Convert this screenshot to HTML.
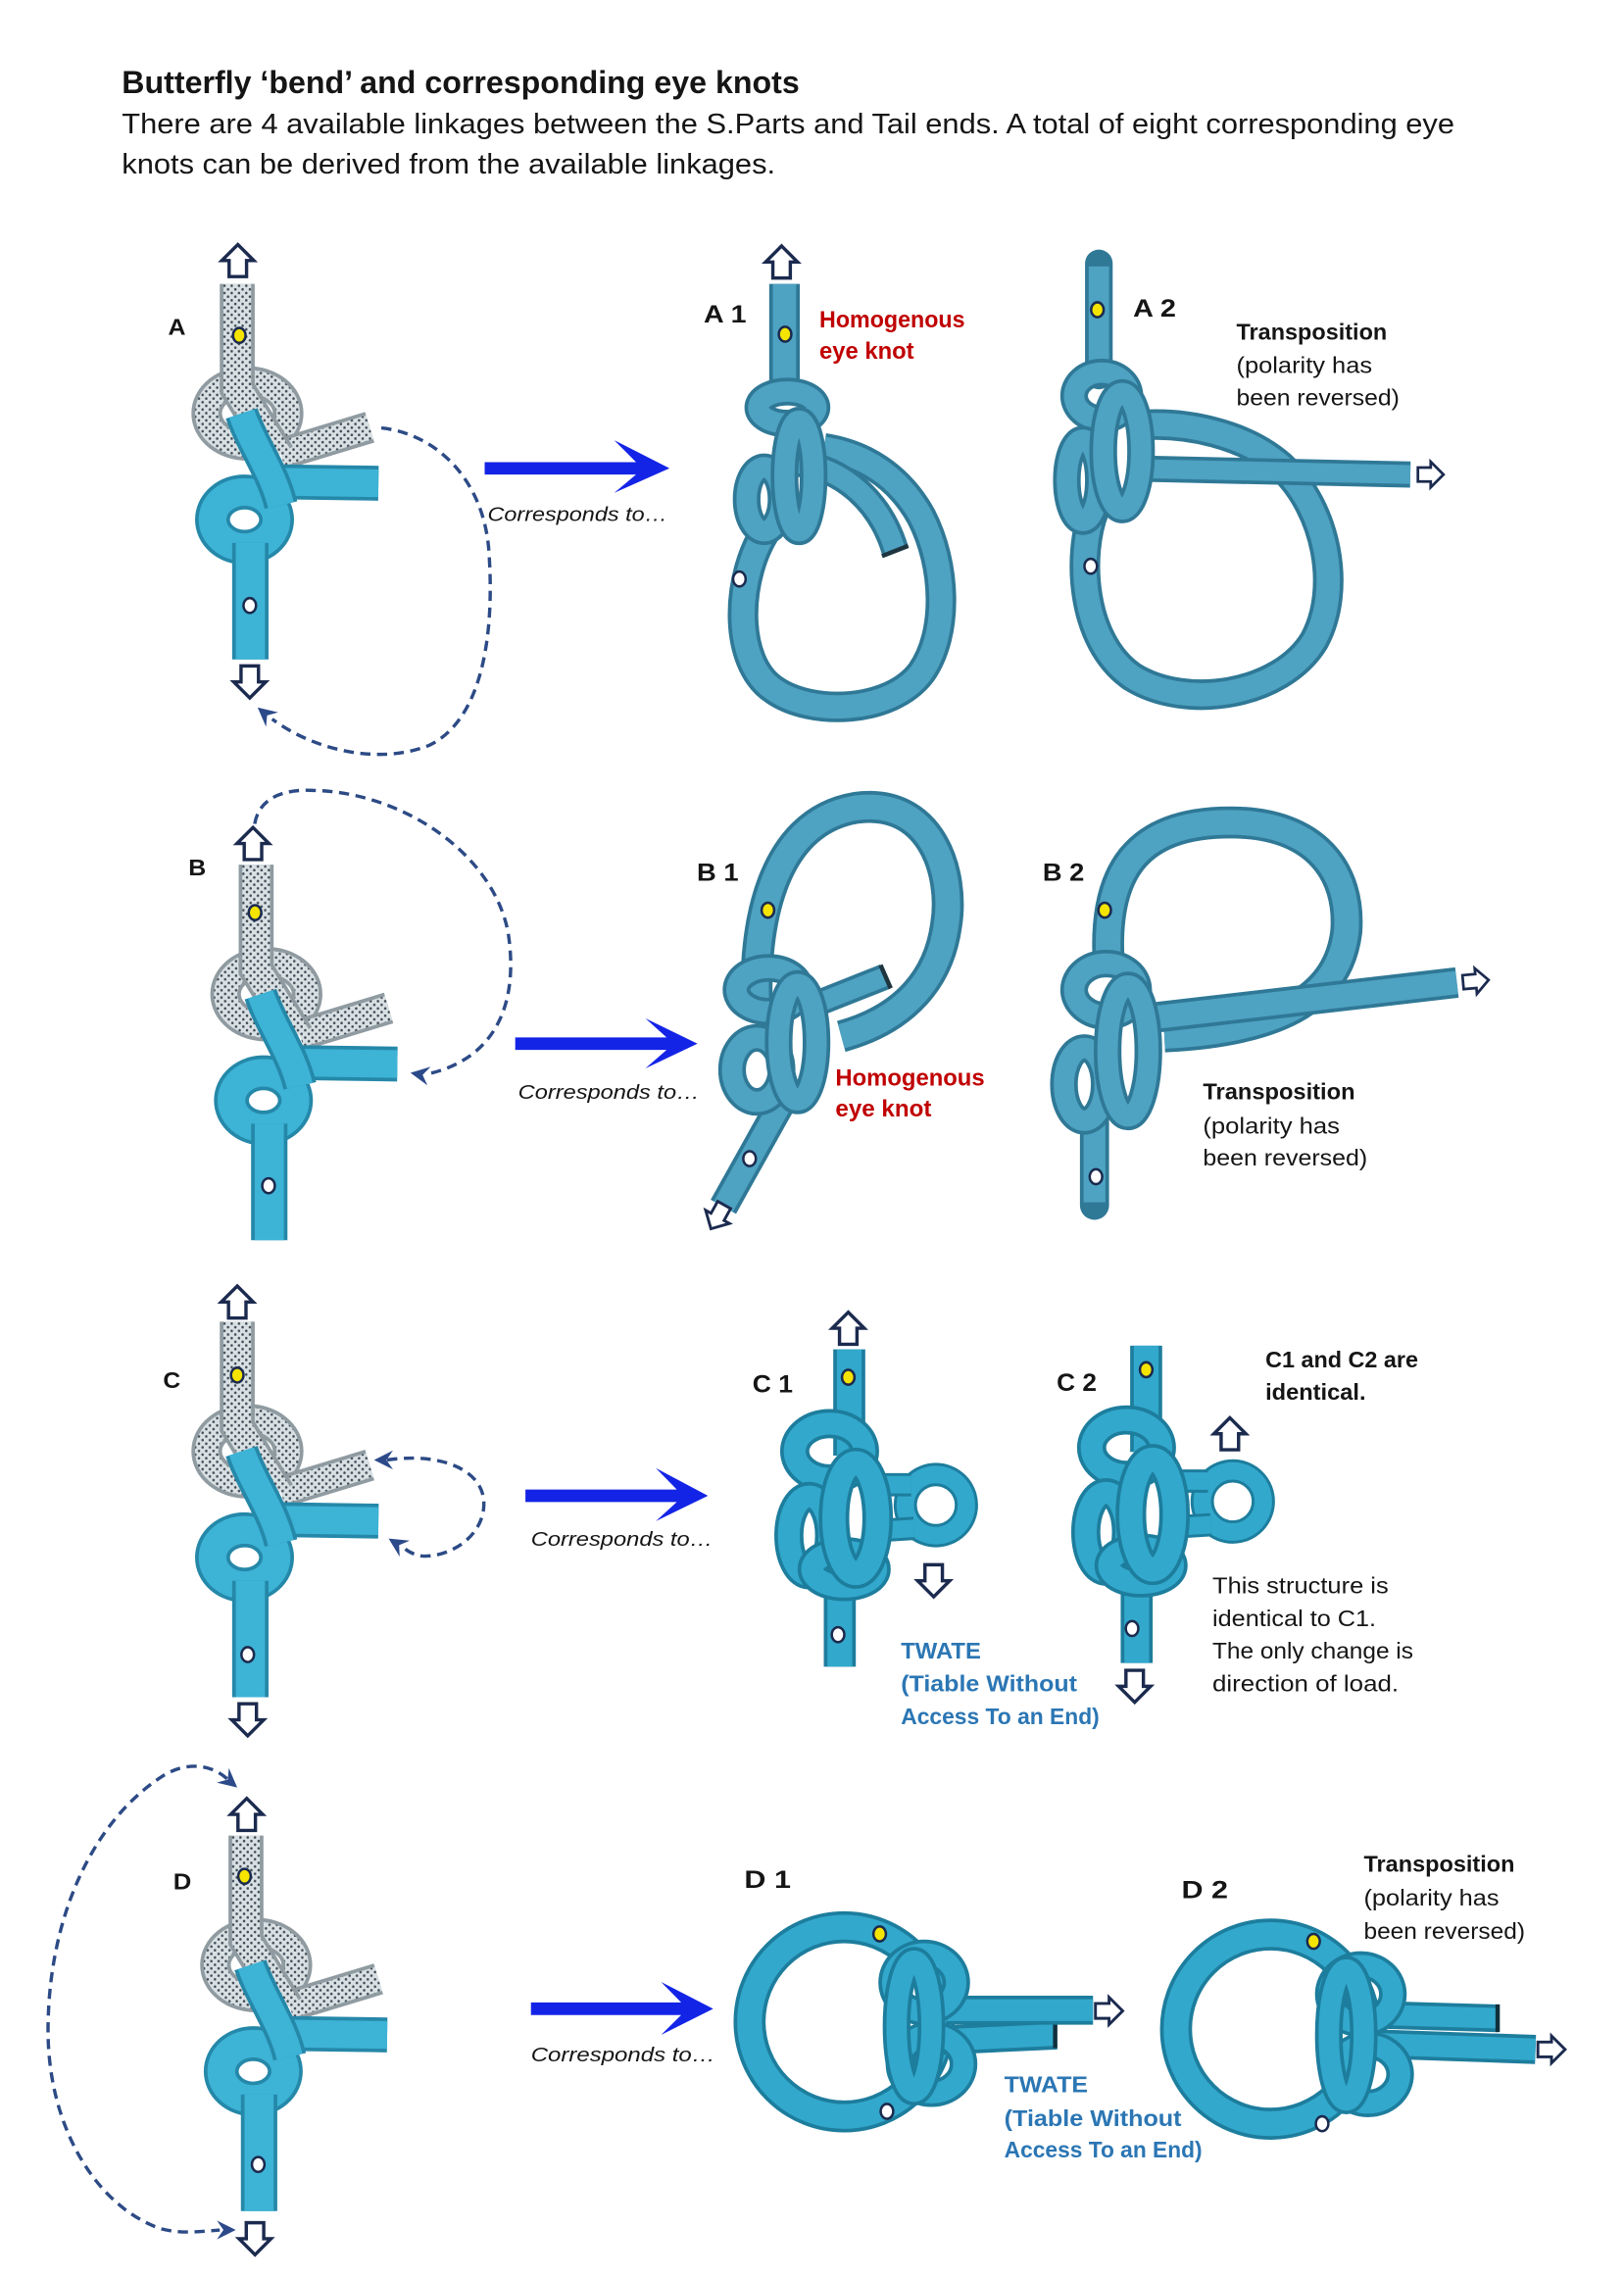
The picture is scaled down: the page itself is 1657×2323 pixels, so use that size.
<!DOCTYPE html>
<html><head><meta charset="utf-8">
<style>
html,body{margin:0;padding:0;background:#fff;}
svg{display:block}
.eg{stroke:#8f9ba1}.fg{stroke:url(#speck)}
.et{stroke:#2588a9}.ft{stroke:#3db3d6}
.em{stroke:#2f7896}.fm{stroke:#4ea2c2}
.ec{stroke:#1d7d9d}.fc{stroke:#32a8cc}
.t{font-family:"Liberation Sans",Arial,sans-serif;fill:#151515}
.b{font-weight:bold}
.i{font-style:italic}
.red{fill:#c00000}
.blu{fill:#2b76b4}
</style></head><body>
<svg xmlns="http://www.w3.org/2000/svg" xmlns:xlink="http://www.w3.org/1999/xlink" width="1657" height="2323" viewBox="0 0 1115.8 1564.3">
<defs>
<pattern id="speck" patternUnits="userSpaceOnUse" width="5" height="5">
  <rect width="5" height="5" fill="#d8e0e3"/>
  <circle cx="1.2" cy="1.3" r="0.85" fill="#3f4a55"/>
  <circle cx="3.7" cy="3.8" r="0.85" fill="#3f4a55"/>
</pattern>
<path id="upA" d="M0,-11 L11,0 L6,0 L6,11 L-6,11 L-6,0 L-11,0 Z" fill="#fff" stroke="#1b2a4e" stroke-width="2.3" stroke-linejoin="miter"/>
<path id="ah" d="M0,0 L-13,-6.5 L-8.5,0 L-13,6.5 Z" fill="#2c4a8a"/>
<g id="LK" fill="none">
  <ellipse class="eg" stroke-width="21" cx="7" cy="89" rx="28" ry="22"/>
  <ellipse class="fg" stroke-width="16" cx="7" cy="89" rx="28" ry="22"/>
  <path class="eg" stroke-width="22" d="M30,117 L91,98.5"/>
  <path class="fg" stroke-width="17" d="M30,117 L91,98.5"/>
  <path class="eg" stroke-width="24" d="M0,0 L0,72 L28,118"/>
  <path class="fg" stroke-width="19" d="M0,0 L0,72 L28,118"/>
  <path class="et" stroke-width="24" d="M28,136 L97,137"/>
  <path class="ft" stroke-width="19" d="M28,136 L97,137"/>
  <ellipse class="et" stroke-width="24" cx="5" cy="162" rx="22" ry="19"/>
  <ellipse class="ft" stroke-width="19" cx="5" cy="162" rx="22" ry="19"/>
  <path class="et" stroke-width="23" d="M3,89 C10,110 25,130 30,152"/>
  <path class="ft" stroke-width="18" d="M3,89 C10,110 25,130 30,152"/>
  <path class="et" stroke-width="25" d="M9,178 L9,258"/>
  <path class="ft" stroke-width="20" d="M9,178 L9,258"/>
</g>
<g id="CK" fill="none">
  <circle class="ec" stroke-width="16" cx="643" cy="1034" r="21"/>
  <circle class="fc" stroke-width="12" cx="643" cy="1034" r="21"/>
  <path class="ec" stroke-width="16" d="M596,1020 L626,1020 M596,1052 L628,1050"/>
  <path class="fc" stroke-width="12" d="M596,1020 L626,1020 M596,1052 L628,1050"/>
  <path class="ec" stroke-width="22" d="M583.5,927 L583.5,1000"/>
  <path class="fc" stroke-width="17" d="M583.5,927 L583.5,1000"/>
  <path class="ec" stroke-width="22" d="M577,1068 L577,1145"/>
  <path class="fc" stroke-width="17" d="M577,1068 L577,1145"/>
  <ellipse class="ec" stroke-width="20" cx="570" cy="997" rx="24" ry="19"/>
  <ellipse class="fc" stroke-width="15" cx="570" cy="997" rx="24" ry="19"/>
  <ellipse class="ec" stroke-width="20" cx="556" cy="1055" rx="14" ry="27"/>
  <ellipse class="fc" stroke-width="15" cx="556" cy="1055" rx="14" ry="27"/>
  <ellipse class="ec" stroke-width="20" cx="580" cy="1078" rx="22" ry="12"/>
  <ellipse class="fc" stroke-width="15" cx="580" cy="1078" rx="22" ry="12"/>
  <ellipse class="ec" stroke-width="21" cx="588" cy="1043" rx="15" ry="38"/>
  <ellipse class="fc" stroke-width="16" cx="588" cy="1043" rx="15" ry="38"/>
</g>
</defs>

<!-- Header text -->
<text class="t b" x="83.7" y="63.9" font-size="21.6" textLength="465.6" lengthAdjust="spacingAndGlyphs">Butterfly ‘bend’ and corresponding eye knots</text>
<text class="t" x="83.7" y="91.5" font-size="19.3" textLength="915.6" lengthAdjust="spacingAndGlyphs">There are 4 available linkages between the S.Parts and Tail ends. A total of eight corresponding eye</text>
<text class="t" x="83.7" y="119.2" font-size="19.3" textLength="449" lengthAdjust="spacingAndGlyphs">knots can be derived from the available linkages.</text>

<!-- ============ ROW A ============ -->
<use href="#LK" transform="translate(163,195)"/>
<use href="#upA" transform="translate(163.4,179)"/>
<use href="#upA" transform="translate(171.6,468.5) rotate(180)"/>
<ellipse cx="164.4" cy="230.4" rx="4.3" ry="5.1" fill="#f4e400" stroke="#1b2a4e" stroke-width="1.7"/>
<ellipse cx="171.6" cy="416" rx="4.3" ry="5.1" fill="#fff" stroke="#1b2a4e" stroke-width="1.7"/>
<text class="t b" x="115.5" y="230" font-size="15.4" textLength="12.1" lengthAdjust="spacingAndGlyphs">A</text>
<path d="M262,294 C300,298 333,330 336,380 C340,440 330,495 295,512 C260,526 215,515 187,494" fill="none" stroke="#2c4a85" stroke-width="2.3" stroke-dasharray="7 4.5"/>
<use href="#ah" transform="translate(177,486) rotate(-140)"/>
<polygon points="333,317.5 437,317.5 422,302.4 460,321.7 422,338.6 437,326 333,326" fill="#1424e6"/>
<text class="t i" x="335" y="358" font-size="13.5" textLength="123.6" lengthAdjust="spacingAndGlyphs">Corresponds to…</text>

<!-- A1 -->
<g fill="none">
  <path class="em" stroke-width="21" d="M528,362 C505,395 503,455 532,474 C558,492 612,490 633,462 C652,435 650,388 633,355 C617,326 592,312 566,308"/>
  <path class="fm" stroke-width="16" d="M528,362 C505,395 503,455 532,474 C558,492 612,490 633,462 C652,435 650,388 633,355 C617,326 592,312 566,308"/>
  <path class="em" stroke-width="19" d="M548,318 C580,322 605,345 615,378"/>
  <path class="fm" stroke-width="14" d="M548,318 C580,322 605,345 615,378"/>
  <path d="M606,382 L624,375" stroke="#1e3540" stroke-width="3"/>
  <path class="em" stroke-width="21" d="M539,195 L539,275"/>
  <path class="fm" stroke-width="16" d="M539,195 L539,275"/>
  <ellipse class="em" stroke-width="19" cx="541" cy="280" rx="20" ry="11"/>
  <ellipse class="fm" stroke-width="14" cx="541" cy="280" rx="20" ry="11"/>
  <ellipse class="em" stroke-width="19" cx="525" cy="343" rx="12" ry="22"/>
  <ellipse class="fm" stroke-width="14" cx="525" cy="343" rx="12" ry="22"/>
  <ellipse class="em" stroke-width="19" cx="549" cy="327" rx="10" ry="38"/>
  <ellipse class="fm" stroke-width="14" cx="549" cy="327" rx="10" ry="38"/>
</g>
<use href="#upA" transform="translate(537,180)"/>
<ellipse cx="539.4" cy="229.6" rx="4.3" ry="5.1" fill="#f4e400" stroke="#1b2a4e" stroke-width="1.7"/>
<ellipse cx="508" cy="397.8" rx="4.3" ry="5.1" fill="#fff" stroke="#1b2a4e" stroke-width="1.7"/>
<text class="t b" x="483.5" y="221.4" font-size="17" textLength="29.3" lengthAdjust="spacingAndGlyphs">A 1</text>
<text class="t b red" x="563" y="225" font-size="16.5" textLength="100" lengthAdjust="spacingAndGlyphs">Homogenous</text>
<text class="t b red" x="563" y="246.5" font-size="16.5" textLength="65" lengthAdjust="spacingAndGlyphs">eye knot</text>

<!-- A2 -->
<g fill="none">
  <path class="em" stroke-width="21" d="M752,350 C740,380 742,440 778,465 C815,488 880,478 903,440 C922,405 912,350 880,320 C855,298 815,290 785,292"/>
  <path class="fm" stroke-width="16" d="M752,350 C740,380 742,440 778,465 C815,488 880,478 903,440 C922,405 912,350 880,320 C855,298 815,290 785,292"/>
  <path class="em" stroke-width="18" d="M785,322 L969,326"/>
  <path class="fm" stroke-width="13" d="M785,322 L969,326"/>
  <path class="em" stroke-width="19" stroke-linecap="round" d="M755,181 L755,258"/>
  <path class="fm" stroke-width="14" d="M755,183 L755,258"/>
  <ellipse class="em" stroke-width="19" cx="757" cy="272" rx="19" ry="16"/>
  <ellipse class="fm" stroke-width="14" cx="757" cy="272" rx="19" ry="16"/>
  <ellipse class="em" stroke-width="19" cx="744" cy="330" rx="11" ry="28"/>
  <ellipse class="fm" stroke-width="14" cx="744" cy="330" rx="11" ry="28"/>
  <ellipse class="em" stroke-width="19" cx="771" cy="310" rx="13" ry="40"/>
  <ellipse class="fm" stroke-width="14" cx="771" cy="310" rx="13" ry="40"/>
</g>
<use href="#upA" transform="translate(983,326) rotate(90) scale(0.8)"/>
<ellipse cx="754" cy="212.8" rx="4.3" ry="5.1" fill="#f4e400" stroke="#1b2a4e" stroke-width="1.7"/>
<ellipse cx="749.4" cy="389" rx="4.3" ry="5.1" fill="#fff" stroke="#1b2a4e" stroke-width="1.7"/>
<text class="t b" x="778.5" y="217.6" font-size="17" textLength="29.5" lengthAdjust="spacingAndGlyphs">A 2</text>
<text class="t b" x="849.5" y="233.5" font-size="15.3" textLength="103.5" lengthAdjust="spacingAndGlyphs">Transposition</text>
<text class="t" x="849.5" y="256.2" font-size="15.3" textLength="93.3" lengthAdjust="spacingAndGlyphs">(polarity has</text>
<text class="t" x="849.5" y="278.5" font-size="15.3" textLength="112" lengthAdjust="spacingAndGlyphs">been reversed)</text>

<!-- ============ ROW B ============ -->
<use href="#LK" transform="translate(176,594)"/>
<use href="#upA" transform="translate(173.8,579.5)"/>
<ellipse cx="175.2" cy="627" rx="4.3" ry="5.1" fill="#f4e400" stroke="#1b2a4e" stroke-width="1.7"/>
<ellipse cx="184.5" cy="814.6" rx="4.3" ry="5.1" fill="#fff" stroke="#1b2a4e" stroke-width="1.7"/>
<text class="t b" x="129.5" y="601.5" font-size="15.4" textLength="12.1" lengthAdjust="spacingAndGlyphs">B</text>
<path d="M175,566 C178,548 195,542 215,543 C275,544 338,585 349,640 C357,690 340,728 293,738" fill="none" stroke="#2c4a85" stroke-width="2.3" stroke-dasharray="7 4.5"/>
<use href="#ah" transform="translate(282,737) rotate(190)"/>
<polygon points="354,712.7 458,712.7 443.4,699.6 479.2,717 443.4,734 458,721.3 354,721.3" fill="#1424e6"/>
<text class="t i" x="356" y="755" font-size="13.5" textLength="124.6" lengthAdjust="spacingAndGlyphs">Corresponds to…</text>

<!-- B1 -->
<g fill="none">
  <path class="em" stroke-width="22" d="M520,690 C518,640 528,565 588,555 C640,548 656,600 650,636 C645,672 622,700 578,712"/>
  <path class="fm" stroke-width="17" d="M520,690 C518,640 528,565 588,555 C640,548 656,600 650,636 C645,672 622,700 578,712"/>
  <path class="em" stroke-width="18" d="M555,692 L608,671"/>
  <path class="fm" stroke-width="13" d="M555,692 L608,671"/>
  <path d="M605,663 L612,679" stroke="#1e3540" stroke-width="3"/>
  <path class="em" stroke-width="20" d="M540,752 L497,829"/>
  <path class="fm" stroke-width="15" d="M540,752 L497,829"/>
  <ellipse class="em" stroke-width="19" cx="528" cy="680" rx="22" ry="15"/>
  <ellipse class="fm" stroke-width="14" cx="528" cy="680" rx="22" ry="15"/>
  <ellipse class="em" stroke-width="19" cx="520" cy="735" rx="17" ry="22"/>
  <ellipse class="fm" stroke-width="14" cx="520" cy="735" rx="17" ry="22"/>
  <ellipse class="em" stroke-width="19" cx="548" cy="716" rx="13" ry="40"/>
  <ellipse class="fm" stroke-width="14" cx="548" cy="716" rx="13" ry="40"/>
</g>
<use href="#upA" transform="translate(493,836) rotate(209) scale(0.85)"/>
<ellipse cx="527.6" cy="625.3" rx="4.3" ry="5.1" fill="#f4e400" stroke="#1b2a4e" stroke-width="1.7"/>
<ellipse cx="515" cy="796" rx="4.3" ry="5.1" fill="#fff" stroke="#1b2a4e" stroke-width="1.7"/>
<text class="t b" x="478.8" y="605.2" font-size="17" textLength="28.7" lengthAdjust="spacingAndGlyphs">B 1</text>
<text class="t b red" x="574" y="745.7" font-size="16.5" textLength="102.5" lengthAdjust="spacingAndGlyphs">Homogenous</text>
<text class="t b red" x="574" y="767" font-size="16.5" textLength="66" lengthAdjust="spacingAndGlyphs">eye knot</text>

<!-- B2 -->
<g fill="none">
  <path class="em" stroke-width="22" d="M762,665 C757,600 780,565 845,565 C905,565 928,600 925,640 C920,682 885,708 800,712"/>
  <path class="fm" stroke-width="17" d="M762,665 C757,600 780,565 845,565 C905,565 928,600 925,640 C920,682 885,708 800,712"/>
  <path class="em" stroke-width="21" d="M785,700 L1001,675"/>
  <path class="fm" stroke-width="16" d="M785,700 L1001,675"/>
  <path class="em" stroke-width="20" stroke-linecap="round" d="M752,770 L752,828"/>
  <path class="fm" stroke-width="15" d="M752,770 L752,826"/>
  <ellipse class="em" stroke-width="19" cx="760" cy="680" rx="22" ry="18"/>
  <ellipse class="fm" stroke-width="14" cx="760" cy="680" rx="22" ry="18"/>
  <ellipse class="em" stroke-width="19" cx="745" cy="745" rx="14" ry="25"/>
  <ellipse class="fm" stroke-width="14" cx="745" cy="745" rx="14" ry="25"/>
  <ellipse class="em" stroke-width="19" cx="775" cy="722" rx="14" ry="45"/>
  <ellipse class="fm" stroke-width="14" cx="775" cy="722" rx="14" ry="45"/>
</g>
<use href="#upA" transform="translate(1014,674) rotate(85) scale(0.8)"/>
<ellipse cx="759" cy="625.3" rx="4.3" ry="5.1" fill="#f4e400" stroke="#1b2a4e" stroke-width="1.7"/>
<ellipse cx="753" cy="808.4" rx="4.3" ry="5.1" fill="#fff" stroke="#1b2a4e" stroke-width="1.7"/>
<text class="t b" x="716.4" y="605" font-size="17" textLength="28.6" lengthAdjust="spacingAndGlyphs">B 2</text>
<text class="t b" x="826.5" y="755.2" font-size="15.3" textLength="104.5" lengthAdjust="spacingAndGlyphs">Transposition</text>
<text class="t" x="826.5" y="778.8" font-size="15.3" textLength="94" lengthAdjust="spacingAndGlyphs">(polarity has</text>
<text class="t" x="826.5" y="800.7" font-size="15.3" textLength="113" lengthAdjust="spacingAndGlyphs">been reversed)</text>

<!-- ============ ROW C ============ -->
<use href="#LK" transform="translate(163,908)"/>
<use href="#upA" transform="translate(163,894.5)"/>
<use href="#upA" transform="translate(170.2,1181.5) rotate(180)"/>
<ellipse cx="163" cy="944.7" rx="4.3" ry="5.1" fill="#f4e400" stroke="#1b2a4e" stroke-width="1.7"/>
<ellipse cx="170.2" cy="1136.7" rx="4.3" ry="5.1" fill="#fff" stroke="#1b2a4e" stroke-width="1.7"/>
<text class="t b" x="112" y="953.5" font-size="15.4" textLength="12" lengthAdjust="spacingAndGlyphs">C</text>
<path d="M266,1003 C300,998 328,1008 332,1028 C336,1052 312,1070 290,1069 C284,1068 280,1066 276,1062" fill="none" stroke="#2c4a85" stroke-width="2.3" stroke-dasharray="7 4.5"/>
<use href="#ah" transform="translate(257,1003) rotate(180)"/>
<use href="#ah" transform="translate(267,1057) rotate(212)"/>
<polygon points="361,1023.3 465,1023.3 450.6,1008.6 486.4,1027.6 450.6,1045 465,1031.9 361,1031.9" fill="#1424e6"/>
<text class="t i" x="364.8" y="1062" font-size="13.5" textLength="125" lengthAdjust="spacingAndGlyphs">Corresponds to…</text>

<!-- C1 -->
<use href="#CK"/>
<use href="#upA" transform="translate(582.8,912.5)"/>
<use href="#upA" transform="translate(641.5,1086) rotate(180)"/>
<ellipse cx="582.8" cy="946.2" rx="4.3" ry="5.1" fill="#f4e400" stroke="#1b2a4e" stroke-width="1.7"/>
<ellipse cx="575.8" cy="1123" rx="4.3" ry="5.1" fill="#fff" stroke="#1b2a4e" stroke-width="1.7"/>
<text class="t b" x="517" y="956.6" font-size="17" textLength="27.8" lengthAdjust="spacingAndGlyphs">C 1</text>
<text class="t b blu" x="619" y="1139.5" font-size="15.5" textLength="55" lengthAdjust="spacingAndGlyphs">TWATE</text>
<text class="t b blu" x="619" y="1162" font-size="15.5" textLength="121" lengthAdjust="spacingAndGlyphs">(Tiable Without</text>
<text class="t b blu" x="619" y="1184.5" font-size="15.5" textLength="136.4" lengthAdjust="spacingAndGlyphs">Access To an End)</text>

<!-- C2 -->
<use href="#CK" transform="translate(204,-2.5)"/>
<use href="#upA" transform="translate(845,985)"/>
<use href="#upA" transform="translate(779.6,1158.5) rotate(180)"/>
<ellipse cx="787.5" cy="941" rx="4.3" ry="5.1" fill="#f4e400" stroke="#1b2a4e" stroke-width="1.7"/>
<ellipse cx="777.8" cy="1118.8" rx="4.3" ry="5.1" fill="#fff" stroke="#1b2a4e" stroke-width="1.7"/>
<text class="t b" x="726" y="955.6" font-size="17" textLength="27.5" lengthAdjust="spacingAndGlyphs">C 2</text>
<text class="t b" x="869.4" y="939.4" font-size="15.5" textLength="105" lengthAdjust="spacingAndGlyphs">C1 and C2 are</text>
<text class="t b" x="869.4" y="961.6" font-size="15.5" textLength="69" lengthAdjust="spacingAndGlyphs">identical.</text>
<text class="t" x="833" y="1094.7" font-size="15.5" textLength="121" lengthAdjust="spacingAndGlyphs">This structure is</text>
<text class="t" x="833" y="1117" font-size="15.5" textLength="112.5" lengthAdjust="spacingAndGlyphs">identical to C1.</text>
<text class="t" x="833" y="1139.5" font-size="15.5" textLength="138" lengthAdjust="spacingAndGlyphs">The only change is</text>
<text class="t" x="833" y="1162" font-size="15.5" textLength="128" lengthAdjust="spacingAndGlyphs">direction of load.</text>

<!-- ============ ROW D ============ -->
<use href="#LK" transform="translate(169,1261)"/>
<use href="#upA" transform="translate(169.5,1246.5)"/>
<use href="#upA" transform="translate(175.2,1538) rotate(180)"/>
<ellipse cx="168" cy="1289" rx="4.3" ry="5.1" fill="#f4e400" stroke="#1b2a4e" stroke-width="1.7"/>
<ellipse cx="177.4" cy="1487" rx="4.3" ry="5.1" fill="#fff" stroke="#1b2a4e" stroke-width="1.7"/>
<text class="t b" x="119" y="1298" font-size="15.4" textLength="12.5" lengthAdjust="spacingAndGlyphs">D</text>
<path d="M156,1222 C145,1212 128,1210 112,1220 C62,1252 33,1320 33,1395 C33,1460 65,1515 110,1531 C125,1535 138,1533 151,1532" fill="none" stroke="#2c4a85" stroke-width="2.3" stroke-dasharray="7 4.5"/>
<use href="#ah" transform="translate(163,1228) rotate(40)"/>
<use href="#ah" transform="translate(162,1532) rotate(0)"/>
<polygon points="364.8,1375.7 468,1375.7 454.2,1361.6 490,1380 454.2,1398 468,1384.3 364.8,1384.3" fill="#1424e6"/>
<text class="t i" x="364.8" y="1416" font-size="13.5" textLength="126.6" lengthAdjust="spacingAndGlyphs">Corresponds to…</text>

<!-- D1 -->
<g fill="none">
  <circle class="ec" stroke-width="22" cx="580" cy="1389" r="65"/>
  <circle class="fc" stroke-width="17" cx="580" cy="1389" r="65"/>
  <path class="ec" stroke-width="20" d="M640,1402 L726,1398"/>
  <path class="fc" stroke-width="15" d="M640,1402 L724,1398"/>
  <path d="M725,1389 L725,1407" stroke="#10303c" stroke-width="3"/>
  <path class="ec" stroke-width="20" d="M650,1381 L751,1381"/>
  <path class="fc" stroke-width="15" d="M650,1381 L751,1381"/>
  <ellipse class="ec" stroke-width="19" cx="635" cy="1362" rx="22" ry="20"/>
  <ellipse class="fc" stroke-width="14" cx="635" cy="1362" rx="22" ry="20"/>
  <ellipse class="ec" stroke-width="19" cx="640" cy="1418" rx="22" ry="20"/>
  <ellipse class="fc" stroke-width="14" cx="640" cy="1418" rx="22" ry="20"/>
  <ellipse class="ec" stroke-width="19" cx="628" cy="1392" rx="12" ry="45"/>
  <ellipse class="fc" stroke-width="14" cx="628" cy="1392" rx="12" ry="45"/>
</g>
<use href="#upA" transform="translate(762,1381.5) rotate(90) scale(0.85)"/>
<ellipse cx="604.4" cy="1328.6" rx="4.3" ry="5.1" fill="#f4e400" stroke="#1b2a4e" stroke-width="1.7"/>
<ellipse cx="609.4" cy="1450.5" rx="4.3" ry="5.1" fill="#fff" stroke="#1b2a4e" stroke-width="1.7"/>
<text class="t b" x="511.4" y="1296.8" font-size="17" textLength="32" lengthAdjust="spacingAndGlyphs">D 1</text>
<text class="t b blu" x="690" y="1437.5" font-size="15.5" textLength="57.5" lengthAdjust="spacingAndGlyphs">TWATE</text>
<text class="t b blu" x="690" y="1460.6" font-size="15.5" textLength="121.8" lengthAdjust="spacingAndGlyphs">(Tiable Without</text>
<text class="t b blu" x="690" y="1482" font-size="15.5" textLength="136" lengthAdjust="spacingAndGlyphs">Access To an End)</text>

<!-- D2 -->
<g fill="none">
  <circle class="ec" stroke-width="22" cx="873" cy="1394" r="65"/>
  <circle class="fc" stroke-width="17" cx="873" cy="1394" r="65"/>
  <path class="ec" stroke-width="19" d="M940,1384 L1030,1386.6"/>
  <path class="fc" stroke-width="14" d="M940,1384 L1028,1386.5"/>
  <path d="M1029,1377 L1029,1396" stroke="#10303c" stroke-width="3"/>
  <path class="ec" stroke-width="20" d="M940,1404 L1055,1408"/>
  <path class="fc" stroke-width="15" d="M940,1404 L1055,1408"/>
  <ellipse class="ec" stroke-width="19" cx="935" cy="1370" rx="22" ry="20"/>
  <ellipse class="fc" stroke-width="14" cx="935" cy="1370" rx="22" ry="20"/>
  <ellipse class="ec" stroke-width="19" cx="940" cy="1425" rx="22" ry="20"/>
  <ellipse class="fc" stroke-width="14" cx="940" cy="1425" rx="22" ry="20"/>
  <ellipse class="ec" stroke-width="19" cx="925" cy="1398" rx="12" ry="45"/>
  <ellipse class="fc" stroke-width="14" cx="925" cy="1398" rx="12" ry="45"/>
</g>
<use href="#upA" transform="translate(1066,1408) rotate(90) scale(0.85)"/>
<ellipse cx="902.5" cy="1333.7" rx="4.3" ry="5.1" fill="#f4e400" stroke="#1b2a4e" stroke-width="1.7"/>
<ellipse cx="908.4" cy="1459" rx="4.3" ry="5.1" fill="#fff" stroke="#1b2a4e" stroke-width="1.7"/>
<text class="t b" x="811.8" y="1304" font-size="17" textLength="32" lengthAdjust="spacingAndGlyphs">D 2</text>
<text class="t b" x="937" y="1286" font-size="15.3" textLength="103.7" lengthAdjust="spacingAndGlyphs">Transposition</text>
<text class="t" x="937" y="1309" font-size="15.3" textLength="93" lengthAdjust="spacingAndGlyphs">(polarity has</text>
<text class="t" x="937" y="1332" font-size="15.3" textLength="110.8" lengthAdjust="spacingAndGlyphs">been reversed)</text>
</svg>
</body></html>
